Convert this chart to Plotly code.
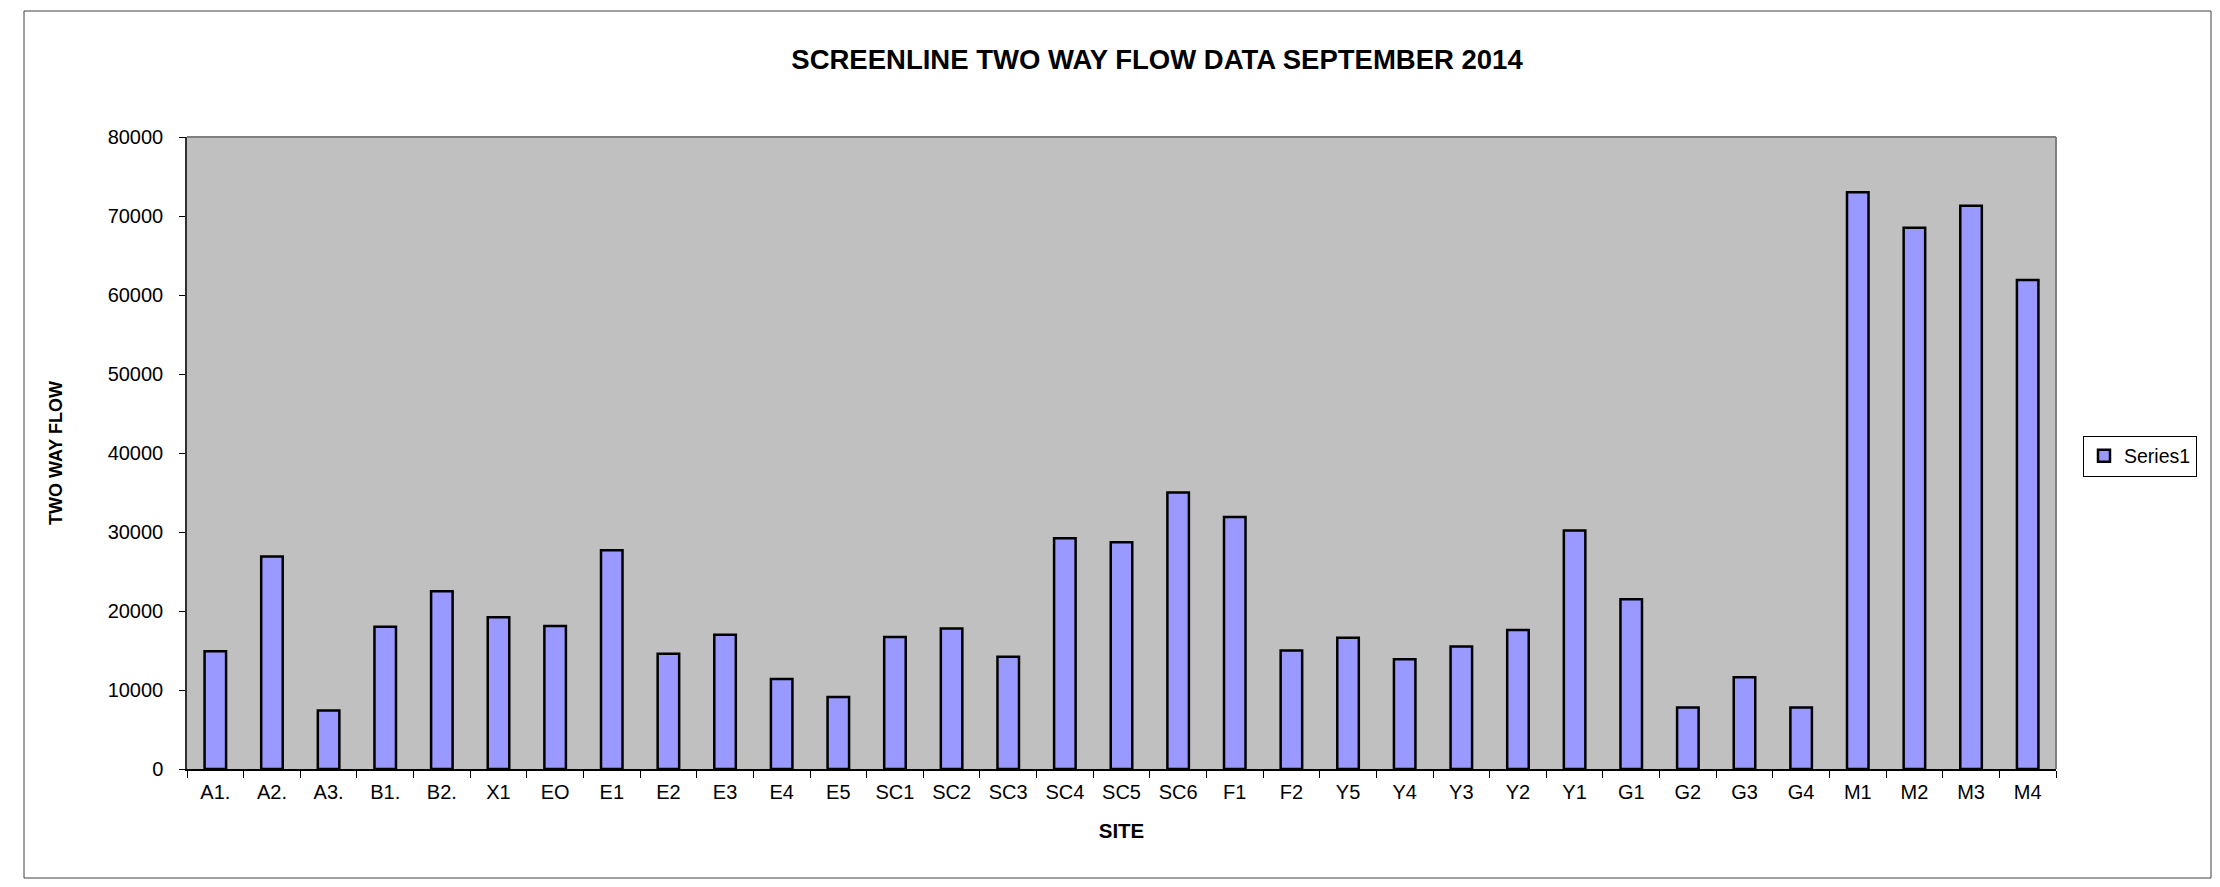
import plotly.graph_objects as go

sites = ["A1.", "A2.", "A3.", "B1.", "B2.", "X1", "EO", "E1", "E2", "E3", "E4", "E5",
         "SC1", "SC2", "SC3", "SC4", "SC5", "SC6", "F1", "F2", "Y5", "Y4", "Y3", "Y2",
         "Y1", "G1", "G2", "G3", "G4", "M1", "M2", "M3", "M4"]
two_way_flow = [14900, 26900, 7400, 18000, 22500, 19200, 18100, 27700, 14600, 17000, 11400, 9100,
                16700, 17800, 14200, 29200, 28700, 35000, 31900, 15000, 16600, 13900, 15500, 17600,
                30200, 21500, 7800, 11600, 7800, 73000, 68500, 71300, 61900]
y_ticks = [0, 10000, 20000, 30000, 40000, 50000, 60000, 70000, 80000]

# the page body has an 8px default margin; size the figure to fit the window
OFF = 8
W, H = 2220 - OFF, 887 - OFF
# plot area in screenshot pixels -> figure pixels
L, R, T, B = 187 - OFF, 2056 - OFF, 137 - OFF, 769 - OFF


def px_x(px):
    return (px - OFF - L) / (R - L)


def px_y(py):
    return (B - (py - OFF)) / (B - T)


FONT = "Liberation Sans, Arial, sans-serif"

fig = go.Figure()
fig.add_trace(go.Bar(
    x=sites, y=two_way_flow, name="Series1",
    marker=dict(color="#9999FF", line=dict(color="black", width=2.5)),
    width=0.38,
))

fig.update_layout(
    width=W, height=H,
    margin=dict(l=L, r=W - R, t=T, b=H - B, autoexpand=False),
    paper_bgcolor="white", plot_bgcolor="#C0C0C0",
    font=dict(family=FONT, color="black", size=20),
    title=dict(text="<b>SCREENLINE TWO WAY FLOW DATA SEPTEMBER 2014</b>",
               font=dict(size=27.5, family=FONT, color="black"),
               x=(1157 - OFF) / W, xanchor="center", y=1 - (59 - OFF) / H, yanchor="middle"),
    showlegend=True,
    legend=dict(x=px_x(2083), xanchor="left", y=px_y(456), yanchor="middle",
                bordercolor="black", borderwidth=1, bgcolor="white",
                font=dict(size=19.5, family=FONT), itemwidth=30),
)

fig.update_xaxes(
    type="category", showgrid=False, showline=True, linecolor="black", linewidth=1.5,
    ticks="outside", tickson="boundaries", ticklen=7, tickcolor="black", tickwidth=1,
    tickfont=dict(size=20), ticklabelstandoff=4,
    title=dict(text="<b>SITE</b>", font=dict(size=20.5), standoff=22),
    range=[-0.5, len(sites) - 0.5],
)
fig.update_yaxes(
    range=[0, 80000], tickvals=y_ticks, ticktext=[str(v) for v in y_ticks],
    showgrid=False, zeroline=False, showline=True, linecolor="#303030", linewidth=1.5,
    ticks="outside", ticklen=6, tickcolor="black", tickwidth=1,
    tickfont=dict(size=20), ticklabelstandoff=12,
    title=dict(text="<b>TWO WAY FLOW</b>", font=dict(size=18), standoff=40),
)

# gray plot-area border (top and right)
fig.add_shape(type="line", xref="paper", yref="paper", x0=0, x1=1, y0=1, y1=1,
              line=dict(color="#808080", width=2), layer="above")
fig.add_shape(type="line", xref="paper", yref="paper", x0=1, x1=1, y0=0, y1=1,
              line=dict(color="#808080", width=2), layer="above")
# outer chart border
fig.add_shape(type="rect", xref="paper", yref="paper",
              x0=px_x(24), x1=px_x(2211), y0=px_y(878), y1=px_y(11),
              line=dict(color="#404040", width=1), fillcolor="rgba(0,0,0,0)", layer="below")

fig.write_html("out.html")
